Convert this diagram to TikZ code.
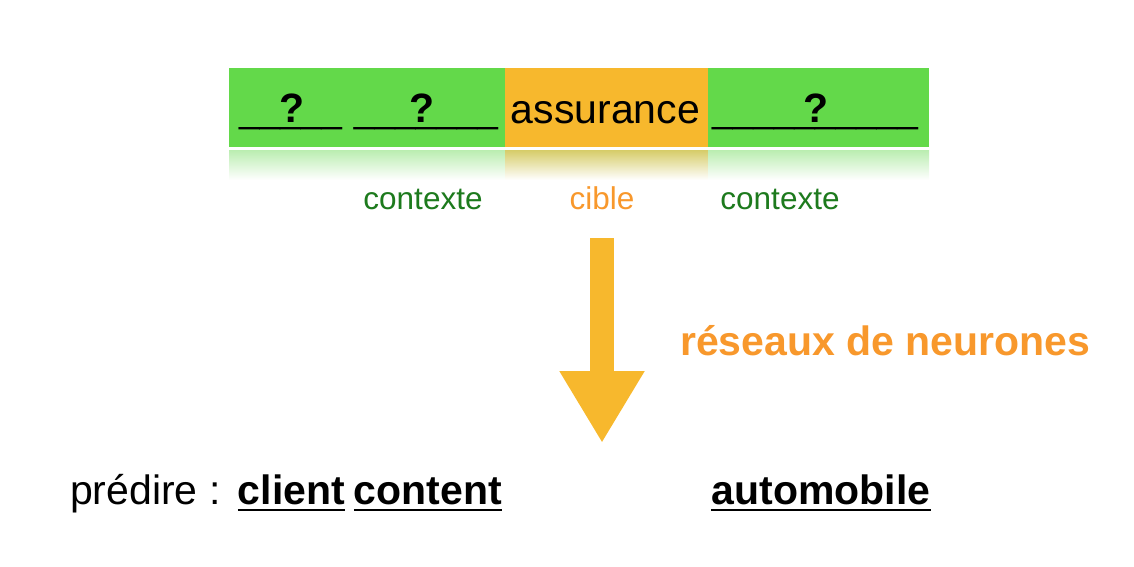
\documentclass[tikz,border=0pt]{standalone}
\usepackage{fontspec}
\setmainfont{Liberation Sans}
\usetikzlibrary{arrows.meta}
\definecolor{barGreen}{RGB}{99,217,74}
\definecolor{barOrange}{RGB}{247,184,45}
\definecolor{reflGreen}{RGB}{186,237,176}
\definecolor{reflOrange}{RGB}{214,204,104}
\definecolor{tagGreen}{RGB}{29,122,29}
\definecolor{tagOrange}{RGB}{248,152,44}
\newcommand\wordfont{\fontsize{41}{49}\selectfont}
\newcommand\blankfont{\fontsize{37}{44}\selectfont}
\newcommand\tagfont{\fontsize{31.5}{38}\selectfont}
% underscores with a bold question mark set over them, shifted by #2
\newcommand\blankq[2]{\setbox0\hbox{\blankfont#1}\rlap{\copy0}\makebox[\wd0][c]{\hspace*{#2}\wordfont\bfseries ?}}
\tikzset{
  word/.style={inner sep=0pt, anchor=base},
  tag/.style={word, font=\tagfont},
  answer/.style={word, font=\wordfont\bfseries},
}

\begin{document}
\begin{tikzpicture}[x=1pt,y=-1pt]
		%%%%% START %%%%%
		\useasboundingbox (0,0) rectangle (1134,566);
		
		% sentence bar and its reflection
		\fill[barGreen] (229,68) rectangle (929,147);
		\fill[barOrange] (505,68) rectangle (708,147);
		\shade[top color=reflGreen, bottom color=white] (229,150) rectangle (505,180);
		\shade[top color=reflOrange, bottom color=white] (505,150) rectangle (708,180);
		\shade[top color=reflGreen, bottom color=white] (708,150) rectangle (929,180);
		
		\node[word] (blank1) at (290.5,122) {\blankq{\_\_\_\_\_}{3pt}};
		\node[word] (blank2) at (426,122) {\blankq{\_\_\_\_\_\_\_}{-8pt}};
		\node[word] (blank3) at (815,122) {\blankq{\_\_\_\_\_\_\_\_\_\_}{2pt}};
		\node[word, font=\wordfont] (target) at (605.5,123) {assurance};
		
		% roles
		\node[tag, text=tagGreen] (ctx1) at (423,209) {contexte};
		\node[tag, text=tagOrange] (cible) at (602,209) {cible};
		\node[tag, text=tagGreen] (ctx2) at (780,209) {contexte};
		
		% network arrow
		\coordinate (arrowtop) at (602,238);
		\coordinate (arrowtip) at (602,443);
		\draw[barOrange, line width=24pt, -{Triangle[length=72pt, width=80pt]}] (arrowtop) -- (arrowtip);
		\node[word, anchor=base west, font=\wordfont\bfseries, text=tagOrange] (reseau) at (680,355) {réseaux de neurones};
		
		% prediction
		\node[word, anchor=base west, font=\wordfont] (predire) at (70,504) {prédire :};
		\node[answer] (client) at (291.5,504) {client};
		\node[answer] (content) at (428,504) {content};
		\node[answer] (auto) at (821,504) {automobile};
		\foreach \w in {client, content, auto}
			\draw[line width=2.5pt] ([yshift=-6pt]\w.base west) -- ([yshift=-6pt]\w.base east);
		
		%%%%% END %%%%%
\end{tikzpicture}
\end{document}
